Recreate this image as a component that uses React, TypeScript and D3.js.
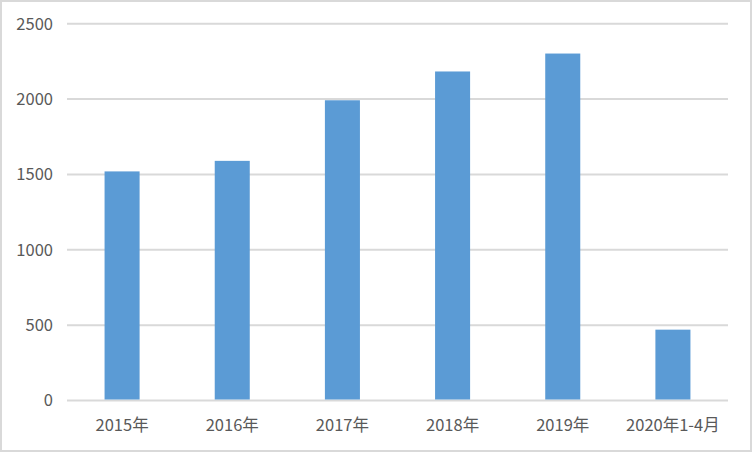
import React from "react";
import * as d3 from "d3";

const categories = ["2015年", "2016年", "2017年", "2018年", "2019年", "2020年1-4月"];
const values = [1520, 1590, 1992, 2183, 2302, 470];
const yTicks = [0, 500, 1000, 1500, 2000, 2500];

const W = 752;
const H = 452;
const left = 67;
const right = 728;
const top = 23.7;
const bottom = 400.5;

export default function App() {
  const x = d3
    .scaleBand<string>()
    .domain(categories)
    .range([left, right])
    .paddingInner(0.682)
    .paddingOuter(0.341);
  const y = d3.scaleLinear().domain([0, 2500]).range([bottom, top]);
  const font = "'Microsoft YaHei', 'Noto Sans CJK SC', sans-serif";
  return (
    <svg
      width={W}
      height={H}
      style={{ position: "absolute", left: 0, top: 0, background: "#fff" }}
    >
      <rect x={1} y={1} width={W - 2} height={H - 2} fill="#fff" stroke="#d9d9d9" strokeWidth={2} />
      {yTicks.map((t) => (
        <g key={t}>
          <line x1={left} x2={right} y1={y(t)} y2={y(t)} stroke="#d9d9d9" strokeWidth={2} />
          <text
            x={53}
            y={y(t)}
            dy="0.36em"
            textAnchor="end"
            fontFamily={font}
            fontSize={16.5}
            fill="#595959"
          >
            {t}
          </text>
        </g>
      ))}
      {categories.map((c, i) => (
        <rect
          key={c}
          x={x(c)}
          y={y(values[i])}
          width={x.bandwidth()}
          height={y(0) - y(values[i]) - 1}
          fill="#5b9bd5"
        />
      ))}
      {categories.map((c) => (
        <text
          key={c}
          x={(x(c) as number) + x.bandwidth() / 2}
          y={431}
          textAnchor="middle"
          fontFamily={font}
          fontSize={16.5}
          fill="#595959"
        >
          {c}
        </text>
      ))}
    </svg>
  );
}
